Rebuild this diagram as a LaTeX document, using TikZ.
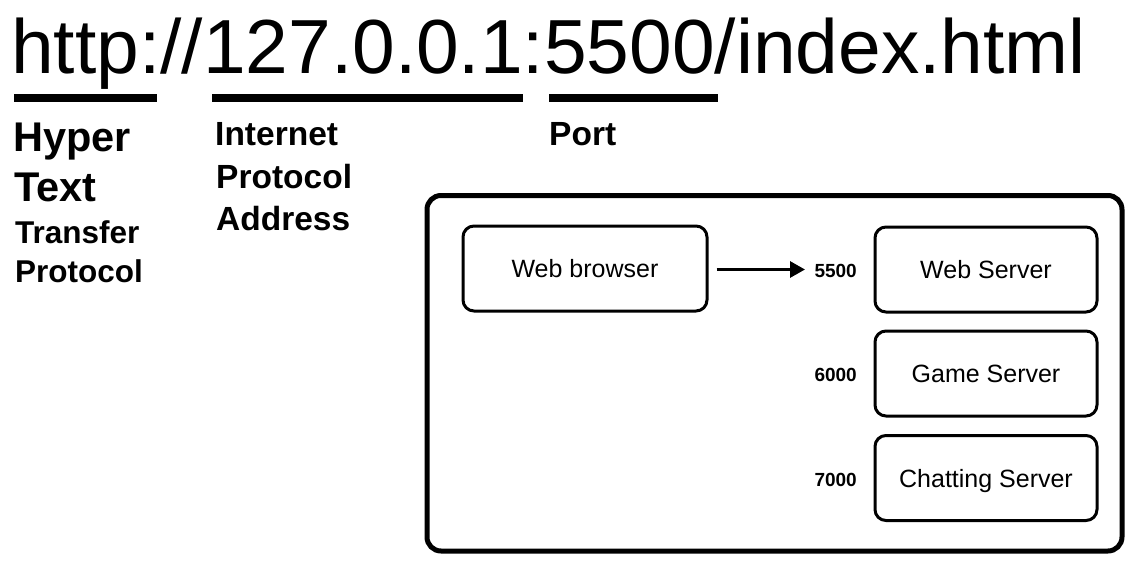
\documentclass[tikz,border=0pt]{standalone}
\usepackage{fontspec}
\setmainfont{Liberation Sans}
\usetikzlibrary{arrows.meta}
\tikzset{
  box/.style={draw, line width=3pt, rounded corners=11pt, minimum height=85pt, inner sep=0pt, text height=18pt, text depth=0pt, font=\fontsize{25}{28}\selectfont},
  srvbox/.style={box, minimum width=222pt},
  portlbl/.style={anchor=base east, inner sep=0pt, font=\bfseries\fontsize{19}{22}\selectfont},
  bigb/.style={anchor=base west, inner sep=0pt, font=\bfseries\fontsize{41.5}{44}\selectfont},
  midb/.style={anchor=base west, inner sep=0pt, font=\bfseries\fontsize{31.5}{36}\selectfont},
  ipb/.style={anchor=base west, inner sep=0pt, font=\bfseries\fontsize{33.5}{36}\selectfont},
  bar/.style={line width=8pt},
  conn/.style={line width=3pt, -{Triangle[length=15pt,width=16pt]}},
}
\begin{document}
\begin{tikzpicture}[x=1pt,y=-1pt]
\useasboundingbox (0,0) rectangle (1133,563);
% URL
\node[anchor=base west, inner sep=0pt, font=\fontsize{76.7}{80}\selectfont] (url) at (11,73) {http://127.0.0.1:5500/index.html};
% underline bars
\coordinate (b1s) at (14,98); \coordinate (b1e) at (157,98);
\coordinate (b2s) at (212,98); \coordinate (b2e) at (523,98);
\coordinate (b3s) at (549,98); \coordinate (b3e) at (718,98);
\draw[bar] (b1s) -- (b1e);
\draw[bar] (b2s) -- (b2e);
\draw[bar] (b3s) -- (b3e);
% left labels
\node[bigb] (hyper) at (13,151) {Hyper};
\node[bigb] (text) at (14,201) {Text};
\node[midb] (transfer) at (15,243) {Transfer};
\node[midb] (protocol1) at (15,282) {Protocol};
\node[ipb] (internet) at (215,145) {Internet};
\node[ipb] (protocol2) at (216,188) {Protocol};
\node[ipb] (address) at (216,230) {Address};
\node[ipb] (port) at (549,145) {Port};
% frame
\draw[line width=5pt, rounded corners=14pt] (427,195.5) rectangle (1122,551);
% boxes
\node[box, minimum width=244pt] (browser) at (585,268.5) {Web browser};
\node[srvbox] (web) at (986,269.5) {Web Server};
\node[srvbox] (game) at (986,373.5) {Game Server};
\node[srvbox] (chat) at (986,478) {Chatting Server};
% ports
\node[portlbl] (p5500) at (857,277.5) {5500};
\node[portlbl] (p6000) at (857,381.5) {6000};
\node[portlbl] (p7000) at (857,486) {7000};
% arrow
\coordinate (atip) at (805,269.5);
\draw[conn] ([xshift=8pt]browser.east |- atip) -- (atip);
\end{tikzpicture}
\end{document}
